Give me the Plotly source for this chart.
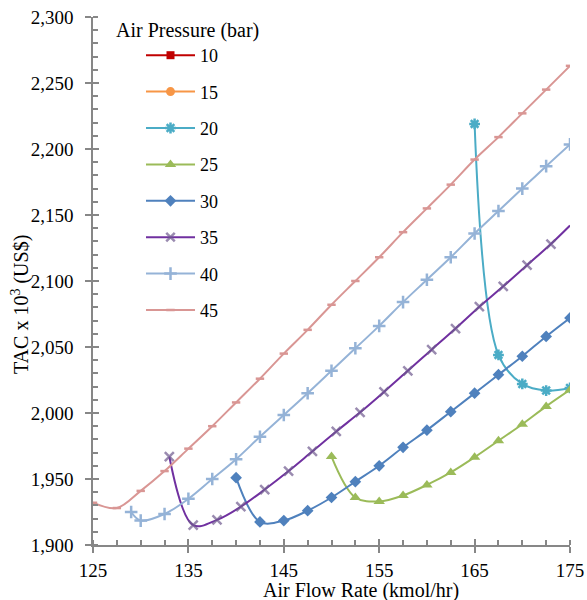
import plotly.graph_objects as go

# ---- data ----
pressures = ["10", "15", "20", "25", "30", "35", "40", "45"]

x10, y10 = [None], [None]
x15, y15 = [None], [None]

x20 = [165, 167.5, 170, 172.5, 175]
y20 = [2219, 2044, 2022, 2017, 2019]

x25 = [150, 152.5, 155, 157.5, 160, 162.5, 165, 167.5, 170, 172.5, 175]
y25 = [1967, 1936, 1933, 1937.5, 1945.5, 1955, 1966.5, 1979, 1991.5, 2005, 2017.5]

x30 = [140, 142.5, 145, 147.5, 150, 152.5, 155, 157.5, 160, 162.5, 165, 167.5, 170, 172.5, 175]
y30 = [1951, 1917.5, 1918.5, 1926, 1936, 1948, 1960, 1974, 1987, 2001, 2015, 2029, 2043, 2058, 2072]

x35 = [133, 135.5, 138, 140.5, 143, 145.5, 148, 150.5, 153, 155.5, 158, 160.5, 163, 165.5, 168, 170.5, 173, 175]
y35 = [1967, 1915, 1919, 1929, 1942, 1956, 1971, 1986, 2000.5, 2016, 2032, 2048, 2064, 2080.5, 2096, 2112, 2128, 2142]

x40 = [129, 130, 132.5, 135, 137.5, 140, 142.5, 145, 147.5, 150, 152.5, 155, 157.5, 160, 162.5, 165, 167.5, 170, 172.5, 175]
y40 = [1925, 1918.5, 1923.5, 1935, 1950, 1965, 1982, 1998.5, 2015, 2032, 2049, 2066, 2084, 2101, 2118, 2136, 2153, 2170, 2187, 2203.5]

x45 = [125, 127.5, 130, 132.5, 135, 137.5, 140, 142.5, 145, 147.5, 150, 152.5, 155, 157.5, 160, 162.5, 165, 167.5, 170, 172.5, 175]
y45 = [1932, 1928, 1941, 1956, 1973, 1990, 2008, 2026, 2045, 2063, 2082, 2100, 2118, 2137, 2155, 2173, 2192, 2209, 2227, 2245, 2263]

x_ticks = [125, 135, 145, 155, 165, 175]
y_ticks = [1900, 1950, 2000, 2050, 2100, 2150, 2200, 2250, 2300]

series = [
    (x10, y10, "#c00000", "#c00000", "square", 8, None),
    (x15, y15, "#f79646", "#f79646", "circle", 9, None),
    (x20, y20, "#4bacc6", "#4bacc6", "asterisk-open", 9, None),
    (x25, y25, "#9bbb59", "#9bbb59", "triangle-up", 10, None),
    (x30, y30, "#4f81bd", "#4f81bd", "diamond", 9, None),
    (x35, y35, "#7030a0", "#6f5a8e", "x-thin-open", 9, "last0"),
    (x40, y40, "#95b3d7", "#95b3d7", "cross-thin-open", 9, None),
    (x45, y45, "#d99694", "#d99694", "line-ew-open", 6, None),
]

FONT = "Liberation Serif"

fig = go.Figure()
for i, (xs, ys, lc, mc, sym, sz, flag) in enumerate(series):
    size = sz
    if flag == "last0":
        size = [sz] * (len(xs) - 1) + [0]
    fig.add_trace(go.Scatter(
        x=xs, y=ys, name=pressures[i], mode="lines+markers",
        line=dict(color=lc, width=2, shape="spline", smoothing=1),
        marker=dict(symbol=sym, size=size, color=mc,
                    line=dict(color=mc, width=2.5 if "open" in sym else 0)),
        legendgroup=pressures[i],
    ))

# invisible trace for overlay axes (inner half of crossing major ticks)
fig.add_trace(go.Scatter(x=[150], y=[2000], xaxis="x2", yaxis="y2",
                         mode="markers", marker=dict(opacity=0),
                         showlegend=False, hoverinfo="skip"))

axis_col = "#878787"
fig.update_layout(
    width=587, height=600,
    margin=dict(l=93, r=17, t=17, b=55),
    paper_bgcolor="white", plot_bgcolor="white",
    font=dict(family=FONT, size=18, color="black"),
    showlegend=True,
    legend=dict(
        x=(141 - 93) / 477, y=(545 - 37) / 528, xanchor="left", yanchor="top",
        font=dict(family=FONT, size=18, color="black"),
        itemwidth=49, tracegroupgap=10, traceorder="grouped",
        bgcolor="rgba(0,0,0,0)",
    ),
    xaxis=dict(
        range=[125, 175], tickvals=x_ticks, ticktext=[str(v) for v in x_ticks],
        showline=True, linecolor=axis_col, linewidth=1.5,
        ticks="outside", ticklen=6, tickcolor=axis_col, tickwidth=1.5,
        minor=dict(dtick=2.5, tick0=125, ticks="inside", ticklen=5,
                   tickcolor=axis_col, tickwidth=1.5),
        showgrid=False, zeroline=False, automargin=False,
        tickfont=dict(family=FONT, size=19), ticklabelstandoff=1,
        ticklabeloverflow="allow",
    ),
    yaxis=dict(
        range=[1900, 2300], tickvals=y_ticks, tickformat=",",
        showline=True, linecolor=axis_col, linewidth=1.5,
        ticks="outside", ticklen=6, tickcolor=axis_col, tickwidth=1.5,
        minor=dict(dtick=10, tick0=1900, ticks="inside", ticklen=5,
                   tickcolor=axis_col, tickwidth=1.5),
        showgrid=False, zeroline=False, automargin=False,
        tickfont=dict(family=FONT, size=19), ticklabelstandoff=8,
        ticklabeloverflow="allow",
    ),
    xaxis2=dict(range=[125, 175], overlaying="x", anchor="y2", tickvals=x_ticks,
                ticks="inside", ticklen=6, tickcolor=axis_col, tickwidth=1.5,
                showticklabels=False, showgrid=False, zeroline=False, showline=False,
                automargin=False),
    yaxis2=dict(range=[1900, 2300], overlaying="y", anchor="x2", tickvals=y_ticks,
                ticks="inside", ticklen=6, tickcolor=axis_col, tickwidth=1.5,
                showticklabels=False, showgrid=False, zeroline=False, showline=False,
                automargin=False),
    annotations=[
        dict(text="Air Pressure (bar)", xref="paper", yref="paper",
             x=(114 - 93) / 477, y=(545 - 30) / 528, xanchor="left", yanchor="middle",
             showarrow=False, font=dict(family=FONT, size=20, color="black")),
        dict(text="Air Flow Rate (kmol/hr)", xref="paper", yref="paper",
             x=(361 - 93) / 477, y=(545 - 590) / 528, xanchor="center", yanchor="middle",
             showarrow=False, font=dict(family=FONT, size=20, color="black")),
        dict(text="TAC x 10<sup>3</sup> (US$)", xref="paper", yref="paper",
             x=(20 - 93) / 477, y=(545 - 305) / 528, xanchor="center", yanchor="middle",
             textangle=-90, showarrow=False, font=dict(family=FONT, size=20, color="black")),
    ],
)

# remove the page's default 8px body margin so the 587x600 figure fills the window
fig.write_html("out.html", config={"displayModeBar": False},
               post_script="document.body.style.margin='0px';")
